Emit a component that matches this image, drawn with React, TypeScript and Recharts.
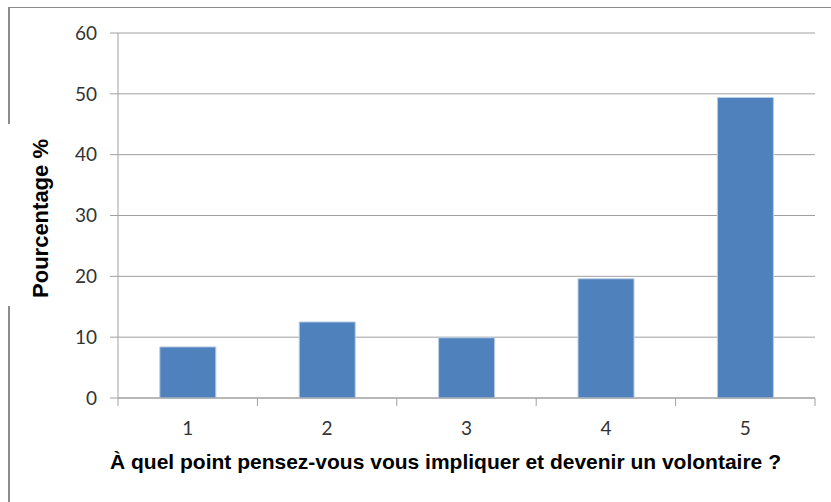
import { BarChart, Bar, XAxis, YAxis, CartesianGrid } from 'recharts';

const levels = ['1', '2', '3', '4', '5'];
const percentages = [8.4, 12.5, 9.9, 19.6, 49.4];
const yTicks = [0, 10, 20, 30, 40, 50, 60];

const data = levels.map((level, i) => ({ level, pct: percentages[i] }));

const AXIS = '#a0a0a0';
const TICK_FONT = 'Lato, "Open Sans", sans-serif';
const LABEL_FONT = 'Arial, "Liberation Sans", sans-serif';
const X_TICK_SIZE = 8;
const X_TICK_MARGIN = 16;

// category label plus tick marks on the category boundaries (Excel style)
function LevelTick(props: any) {
  const { x, y, payload, index } = props;
  const half = payload.offset ?? 0;
  const axisY = y - X_TICK_SIZE - X_TICK_MARGIN;
  return (
    <g>
      {index === 0 && (
        <line x1={x - half} x2={x - half} y1={axisY} y2={axisY + X_TICK_SIZE} stroke={AXIS} />
      )}
      <line x1={x + half} x2={x + half} y1={axisY} y2={axisY + X_TICK_SIZE} stroke={AXIS} />
      <text x={x} y={y} dy="0.71em" textAnchor="middle" fill="#333" fontSize={19} fontFamily={TICK_FONT}>
        {payload.value}
      </text>
    </g>
  );
}

export default function App() {
  return (
    <div style={{ position: 'absolute', left: 0, top: 0, width: 831, height: 502, background: '#fff' }}>
      {/* chart frame (clipped in the original image) */}
      <div style={{ position: 'absolute', left: 9, top: 7, width: 822, height: 1, background: '#8c8c8c' }} />
      <div style={{ position: 'absolute', left: 8, top: 7, width: 2, height: 117, background: '#8c8c8c' }} />
      <div style={{ position: 'absolute', left: 8, top: 306, width: 2, height: 196, background: '#8c8c8c' }} />

      <BarChart
        width={831}
        height={502}
        data={data}
        margin={{ top: 33, right: 16, bottom: 0, left: 0 }}
        barCategoryGap="30%"
        style={{ position: 'absolute', left: 0, top: 0 }}
      >
        <CartesianGrid vertical={false} stroke={AXIS} strokeWidth={1} />

        <XAxis
          dataKey="level"
          tick={LevelTick}
          tickLine={false}
          tickSize={X_TICK_SIZE}
          tickMargin={X_TICK_MARGIN}
          axisLine={{ stroke: AXIS }}
          height={104}
          label={{
            value: 'À quel point pensez-vous vous impliquer et devenir un volontaire ?',
            position: 'insideBottom',
            offset: 33,
            dx: -21,
            style: { fill: '#000', fontWeight: 700, fontSize: 21, fontFamily: LABEL_FONT },
          }}
        />
        <YAxis
          domain={[0, 60]}
          ticks={yTicks}
          tick={{ fill: '#333', fontSize: 19, fontFamily: TICK_FONT }}
          tickLine={{ stroke: AXIS }}
          tickSize={8}
          tickMargin={13}
          axisLine={{ stroke: AXIS }}
          width={118}
          label={{
            value: 'Pourcentage %',
            angle: -90,
            position: 'insideLeft',
            offset: 40,
            dy: 3,
            style: { textAnchor: 'middle', fill: '#000', fontWeight: 700, fontSize: 22, fontFamily: LABEL_FONT },
          }}
        />

        <Bar dataKey="pct" fill="#4f81bd" stroke="#b9cde5" strokeWidth={1} isAnimationActive={false} />
      </BarChart>
    </div>
  );
}
